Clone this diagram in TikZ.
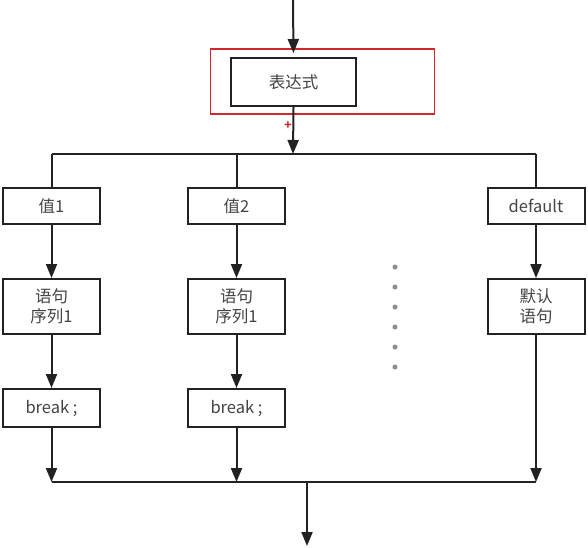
\documentclass[tikz,border=0pt]{standalone}
\usepackage{fontspec}
\setmainfont{Noto Sans CJK SC}
\usetikzlibrary{arrows.meta}
\definecolor{ink}{HTML}{222222}
\definecolor{mark}{HTML}{D0262C}
\tikzset{
  sw_box/.style = {draw=ink, line width=2pt, align=center, inner sep=0pt,
    text=ink!85, font=\fontsize{16.5}{20}\selectfont},% case box
  sw_val/.style = {sw_box, minimum width=97pt, minimum height=36pt},% label row
  sw_seq/.style = {sw_box, minimum width=97pt, minimum height=55pt},% statement row
  sw_brk/.style = {sw_box, minimum width=97pt, minimum height=38pt},% break row
  sw_dot/.style = {circle, fill=gray!90, inner sep=0pt, minimum size=5pt},
}
\begin{document}
\begin{tikzpicture}[x=1pt, y=-1pt, line width=2pt, draw=ink,
  >={Triangle[length=14pt, width=11pt]}]
\useasboundingbox (0,0) rectangle (588,547);
\node [sw_box, minimum width=125pt, minimum height=48pt] (expr) at (293.5,82) {表达式};
\node [draw=mark, line width=1.8pt, minimum width=224pt, minimum height=65pt] (frame) at (322.5,81.5) {};
\node [text=mark, font=\bfseries\fontsize{12}{12}\selectfont, inner sep=0pt] (cursor) at (288,126) {+};
\coordinate (in) at (293,0);
\coordinate (fork) at (293,154);
\coordinate (join) at (307,482);
\coordinate (out) at (307,546);
% three case columns
\node [sw_val] (v1) at (51.5,206) {值1};
\node [sw_val] (v2) at (236.5,206) {值2};
\node [sw_val] (vd) at (536,206) {default};
\node [sw_seq] (s1) at (51.5,306.5) {语句\\序列1};
\node [sw_seq] (s2) at (236.5,306.5) {语句\\序列1};
\node [sw_seq] (sd) at (536,306.5) {默认\\语句};
\node [sw_brk] (b1) at (51.5,408) {break ;};
\node [sw_brk] (b2) at (236.5,408) {break ;};
\foreach \y [count=\i] in {267,287,...,367}
  \node [sw_dot] (dot\i) at (395,\y) {};
\draw [->, shorten >=4pt] (in) -- (expr.north);
\draw [->] (expr.south) -- (fork);
\draw (v1.north |- fork) -- (vd.north |- fork);
\foreach \c in {v1,v2,vd}
  \draw (\c.north |- fork) -- (\c.north);
\foreach \a/\b in {v1/s1,v2/s2,vd/sd,s1/b1,s2/b2}
  \draw [->] (\a) -- (\b);
\foreach \c in {b1,b2,sd}
  \draw [->] (\c.south) -- (\c.south |- join);
\draw (b1.south |- join) -- (sd.south |- join);
\draw [->] (join) -- (out);
\end{tikzpicture}
\end{document}
